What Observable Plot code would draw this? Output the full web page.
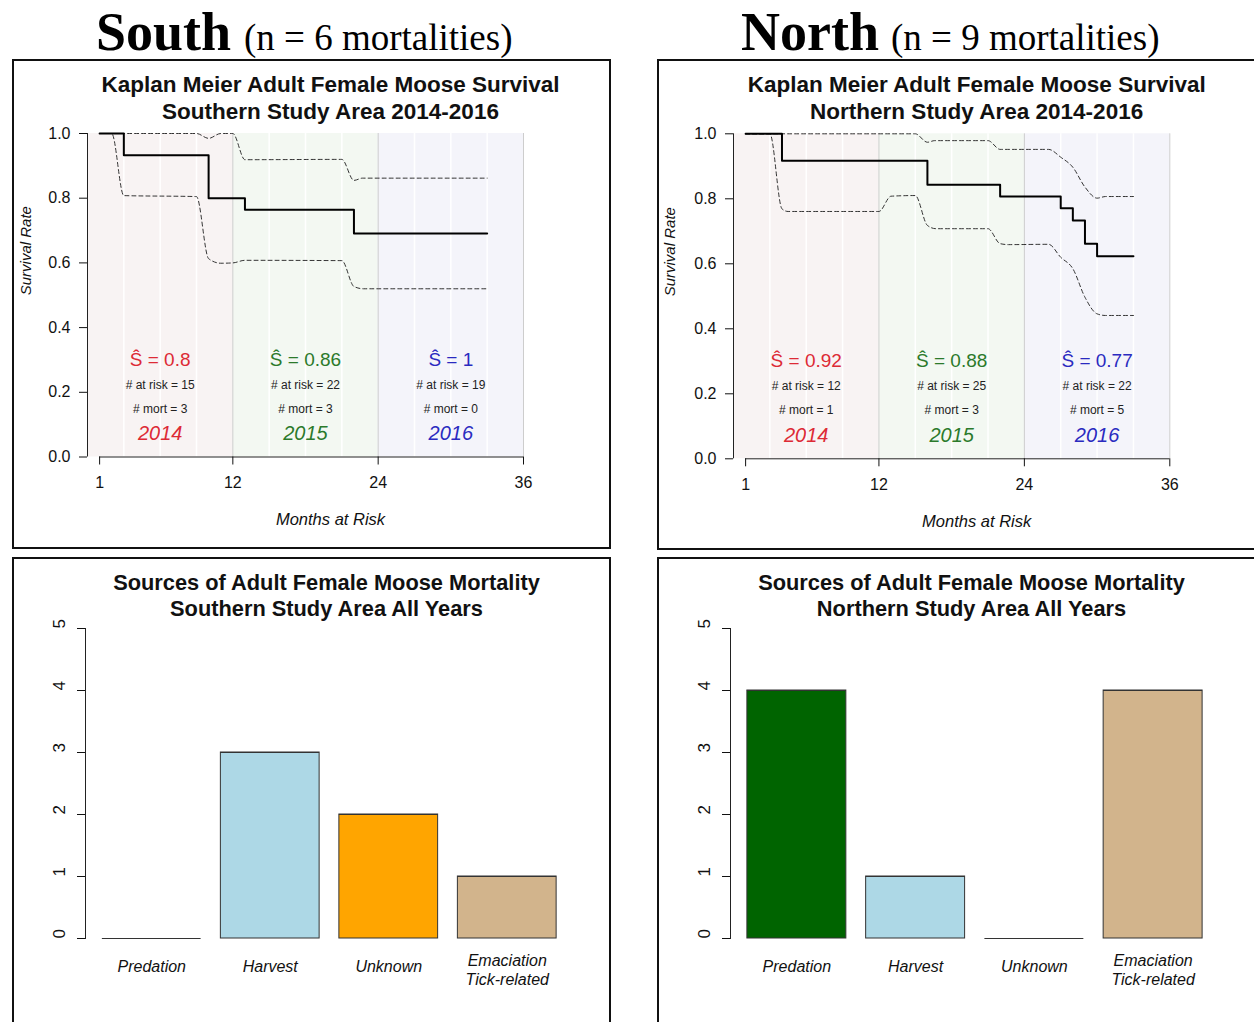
<!DOCTYPE html>
<html>
<head>
<meta charset="utf-8">
<script src="https://cdn.jsdelivr.net/npm/d3@7"></script>
<script src="https://cdn.jsdelivr.net/npm/@observablehq/plot@0.6"></script>
<style>
  body { margin: 0; background: #fff; }
  #root { position: relative; width: 1254px; height: 1022px; overflow: hidden; background: #fff; }
  .box { position: absolute; border: 2px solid #111; box-sizing: border-box; }
  .head { position: absolute; font-family: "Liberation Serif", "Times New Roman", serif; line-height: 1; white-space: nowrap; color: #000; }
  .big { font-size: 54px; font-weight: bold; }
  .sub { font-size: 37px; }
  .plotwrap { position: absolute; }
  .plotwrap svg { display: block; }
</style>
</head>
<body>
<div id="root">
  <div class="box" style="left:12px;top:59px;width:599px;height:490px"></div>
  <div class="box" style="left:657px;top:59px;width:620px;height:491px"></div>
  <div class="box" style="left:12px;top:557px;width:599px;height:480px"></div>
  <div class="box" style="left:657px;top:557px;width:620px;height:480px"></div>
  <div class="head big" style="left:96px;top:5px">South</div>
  <div class="head sub" style="left:244px;top:19px">(n = 6 mortalities)</div>
  <div class="head big" style="left:741px;top:5px">North</div>
  <div class="head sub" style="left:891px;top:19px">(n = 9 mortalities)</div>
</div>
<script>
// ---------- shared categories / ticks ----------
const kmYears = ["2014", "2015", "2016"];
const yearStarts = [0, 12, 24];
const yearEnds = [12, 24, 36];
const yearCenters = [6, 18, 30];
const yearFills = ["#f8f3f3", "#f3f8f2", "#f4f4fa"];
const yearTextColors = ["#dd2a35", "#2b7a2b", "#2a2ac0"];
const monthTicks = [1, 12, 24, 36];
const minorGridMonths = [3, 6, 9, 15, 18, 21, 27, 30, 33];
const majorGridMonths = [12, 24, 36];
const survTicks = [0, 0.2, 0.4, 0.6, 0.8, 1.0];

// ---------- South Kaplan-Meier ----------
const southKmMonths = [1, 3, 10, 13, 22, 33];
const southKmSurv = [1, 0.933, 0.8, 0.764, 0.691, 0.691];
const southUpperMonths = [1, 9, 10, 11, 12, 13, 21, 22, 22.7, 33];
const southUpperSurv = [1, 1, 0.985, 1, 1, 0.919, 0.92, 0.855, 0.862, 0.862];
const southLowerMonths = [1, 2, 3, 9, 10, 11, 12, 13, 21, 22, 22.8, 33];
const southLowerSurv = [1, 1, 0.808, 0.805, 0.613, 0.599, 0.6, 0.608, 0.607, 0.527, 0.52, 0.52];
const southShat = ["0.8", "0.86", "1"];
const southAtRisk = [15, 22, 19];
const southMort = [3, 3, 0];

// ---------- North Kaplan-Meier ----------
const northKmMonths = [1, 4, 16, 22, 27, 28, 29, 30, 33];
const northKmSurv = [1, 0.917, 0.843, 0.807, 0.771, 0.733, 0.662, 0.623, 0.623];
const northUpperMonths = [1, 15, 16, 16.6, 21, 22, 26, 27, 28, 29, 30, 30.7, 33];
const northUpperSurv = [1, 1, 0.974, 0.979, 0.979, 0.952, 0.952, 0.928, 0.897, 0.836, 0.802, 0.807, 0.807];
const northLowerMonths = [1, 3, 4, 4.5, 12, 13, 15, 16, 16.7, 21, 22, 22.7, 26, 27, 28, 29, 30, 30.7, 33];
const northLowerSurv = [1, 1, 0.769, 0.761, 0.761, 0.808, 0.81, 0.718, 0.708, 0.708, 0.662, 0.659, 0.66, 0.62, 0.585, 0.497, 0.446, 0.441, 0.441];
const northShat = ["0.92", "0.88", "0.77"];
const northAtRisk = [12, 25, 22];
const northMort = [1, 3, 5];

// ---------- Mortality sources ----------
const causes = ["Predation", "Harvest", "Unknown", "Emaciation\nTick-related"];
const causeColors = ["#006400", "#ADD8E6", "#FFA500", "#D2B48C"];
const southCounts = [0, 3, 2, 1];
const northCounts = [4, 1, 0, 4];
const countTicks = [0, 1, 2, 3, 4, 5];

const FONT = "'Liberation Sans', Arial, Helvetica, sans-serif";

function kmPlot(cfg) {
  const bands = yearStarts.map((s, i) => ({x1: s, x2: yearEnds[i], fill: yearFills[i]}));
  const km = cfg.months.map((m, i) => ({m, s: cfg.surv[i]}));
  const up = cfg.upM.map((m, i) => ({m, s: cfg.upS[i]}));
  const lo = cfg.loM.map((m, i) => ({m, s: cfg.loS[i]}));
  const ann = yearCenters.map((m, i) => ({
    m, year: kmYears[i], color: yearTextColors[i],
    shat: "Ŝ = " + cfg.shat[i], risk: "# at risk = " + cfg.risk[i], mort: "# mort = " + cfg.mort[i]
  }));
  const dash = {x: "m", y: "s", curve: "monotone-x", stroke: "#333", strokeWidth: 1, strokeDasharray: "4,3"};
  return Plot.plot({
    width: cfg.width, height: cfg.height,
    marginLeft: cfg.ml, marginRight: cfg.mr, marginTop: cfg.mt, marginBottom: cfg.mb,
    x: {domain: [0, 36], label: null},
    y: {domain: [0, 1], label: null},
    color: {type: "identity"},
    style: {background: "transparent", fontFamily: FONT, fontSize: "16px", color: "#111", overflow: "visible"},
    marks: [
      Plot.rect(bands, {x1: "x1", x2: "x2", y1: 0, y2: 1, fill: "fill"}),
      Plot.ruleX(minorGridMonths, {y1: 0, y2: 1, stroke: "#ffffff", strokeWidth: 1.5}),
      Plot.ruleX(majorGridMonths, {y1: 0, y2: 1, stroke: "#cdcdcd", strokeWidth: 1}),
      Plot.line(up, dash),
      Plot.line(lo, dash),
      Plot.line(km, {x: "m", y: "s", curve: "step-after", stroke: "#000", strokeWidth: 2}),
      Plot.text(ann, {x: "m", y: 0.3, text: "shat", fill: "color", fontSize: 19}),
      Plot.text(ann, {x: "m", y: 0.222, text: "risk", fill: "#222", fontSize: 12}),
      Plot.text(ann, {x: "m", y: 0.149, text: "mort", fill: "#222", fontSize: 12}),
      Plot.text(ann, {x: "m", y: 0.072, text: "year", fill: "color", fontSize: 20, fontStyle: "italic"}),
      Plot.ruleX([0], {y1: 0, y2: 1, stroke: "#222"}),
      Plot.axisY({ticks: survTicks, tickFormat: ".1f", tickSize: 8, tickPadding: 9, label: null, fontSize: 16}),
      Plot.ruleY([0], {x1: 1, x2: 36, stroke: "#222"}),
      Plot.axisX({ticks: monthTicks, tickFormat: "d", tickSize: 8, tickPadding: 12, label: null, fontSize: 16}),
      Plot.text([cfg.title], {frameAnchor: "top", dx: 25, dy: cfg.titleDy, fontWeight: "bold", fontSize: 22.5, lineHeight: 1.2, lineAnchor: "middle", fill: "#111"}),
      Plot.text(["Months at Risk"], {frameAnchor: "bottom", dx: 25, dy: 63, fontStyle: "italic", fontSize: 16.5, lineAnchor: "middle", fill: "#111"}),
      Plot.text(["Survival Rate"], {frameAnchor: "left", dx: cfg.ylabDx, rotate: -90, fontStyle: "italic", fontSize: 15, lineAnchor: "middle", fill: "#111"})
    ]
  });
}

function barPlot(cfg) {
  const data = causes.map((c, i) => ({cause: c, count: cfg.counts[i], color: causeColors[i]}));
  const singleLine = data.filter(d => !d.cause.includes("\n"));
  const multiLine = data.filter(d => d.cause.includes("\n"));
  const labelStyle = {x: "cause", text: "cause", frameAnchor: "bottom", fontStyle: "italic", fontSize: 16, lineHeight: 1.2, lineAnchor: "middle", fill: "#111"};
  return Plot.plot({
    width: cfg.width, height: 465,
    marginLeft: 73, marginRight: cfg.mr, marginTop: 71, marginBottom: 84,
    x: {type: "band", domain: causes, range: cfg.xRange, paddingInner: 0.1667, paddingOuter: 0.0833, round: false, label: null, axis: null},
    y: {domain: [0, 5], label: null},
    color: {type: "identity"},
    style: {background: "transparent", fontFamily: FONT, fontSize: "15px", color: "#111", overflow: "visible"},
    marks: [
      Plot.barY(data, {x: "cause", y: "count", fill: "color", stroke: "#333", strokeWidth: 1}),
      Plot.tickY(data, {x: "cause", y: "count", stroke: "#333", strokeWidth: 1}),
      Plot.frame({anchor: "left", stroke: "#222"}),
      Plot.axisY({ticks: countTicks, tickSize: 8, tickFormat: () => "", label: null}),
      Plot.text(countTicks, {y: d => d, text: d => String(d), frameAnchor: "left", dx: -26, rotate: -90, fontSize: 17, fill: "#111"}),
      Plot.text(singleLine, {...labelStyle, dy: 27}),
      Plot.text(multiLine, {...labelStyle, dy: 30.5}),
      Plot.text([cfg.title], {frameAnchor: "top", dy: -34, fontWeight: "bold", fontSize: 21.8, lineHeight: 1.2, lineAnchor: "middle", fill: "#111"})
    ]
  });
}

function place(node, left, top) {
  const d = document.createElement("div");
  d.className = "plotwrap";
  d.style.left = left + "px";
  d.style.top = top + "px";
  d.appendChild(node);
  document.getElementById("root").appendChild(d);
}

place(kmPlot({
  width: 598, height: 489, ml: 75, mr: 87, mt: 74, mb: 91.5,
  months: southKmMonths, surv: southKmSurv,
  upM: southUpperMonths, upS: southUpperSurv, loM: southLowerMonths, loS: southLowerSurv,
  shat: southShat, risk: southAtRisk, mort: southMort,
  title: "Kaplan Meier Adult Female Moose Survival\nSouthern Study Area 2014-2016",
  titleDy: -36.5, ylabDx: -61
}), 12, 59);

place(kmPlot({
  width: 597, height: 491, ml: 76, mr: 84.7, mt: 74.3, mb: 91.7,
  months: northKmMonths, surv: northKmSurv,
  upM: northUpperMonths, upS: northUpperSurv, loM: northLowerMonths, loS: northLowerSurv,
  shat: northShat, risk: northAtRisk, mort: northMort,
  title: "Kaplan Meier Adult Female Moose Survival\nNorthern Study Area 2014-2016",
  titleDy: -36.8, ylabDx: -63
}), 657, 59);

place(barPlot({
  width: 598, mr: 43, xRange: [80, 554], counts: southCounts,
  title: "Sources of Adult Female Moose Mortality\nSouthern Study Area All Years"
}), 12, 557);

place(barPlot({
  width: 597, mr: 42, xRange: [80, 555], counts: northCounts,
  title: "Sources of Adult Female Moose Mortality\nNorthern Study Area All Years"
}), 657, 557);
</script>
</body>
</html>
